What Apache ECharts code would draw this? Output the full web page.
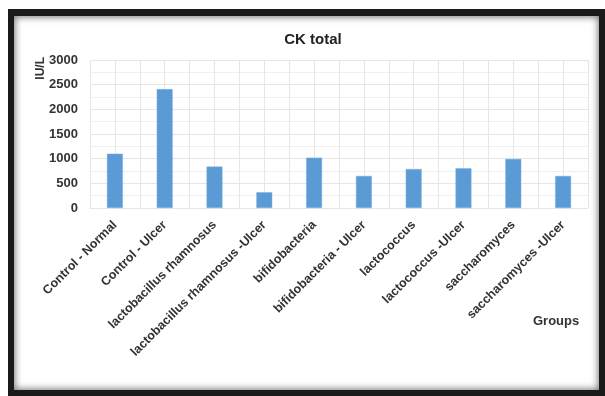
<!DOCTYPE html>
<html>
<head>
<meta charset="utf-8">
<script src="https://cdn.jsdelivr.net/npm/echarts@6/dist/echarts.min.js"></script>
<style>
  html, body { margin: 0; padding: 0; background: #fff; }
  body { width: 605px; height: 396px; position: relative; overflow: hidden; }
  /* picture frame around the chart */
  .frame { position: absolute; left: 8px; top: 9px; width: 597px; height: 387px; background: #1a1a1a; }
  .inner {
    position: absolute; left: 14px; top: 16px; width: 585px; height: 374px;
    background: #fff; box-shadow: inset 0 0 7px 1px #777;
  }
  #chart { position: absolute; left: 0; top: 0; width: 605px; height: 396px; }
</style>
</head>
<body>
<div class="frame"></div>
<div class="inner"></div>
<div id="chart"></div>
<script>
const groups = [
  'Control - Normal',
  'Control - Ulcer',
  'lactobacillus rhamnosus',
  'lactobacillus rhamnosus -Ulcer',
  'bifidobacteria',
  'bifidobacteria - Ulcer',
  'lactococcus',
  'lactococcus -Ulcer',
  'saccharomyces',
  'saccharomyces -Ulcer'
]
const ckTotal = [1100, 2410, 840, 320, 1020, 650, 790, 805, 995, 650]

const textColor = '#333'
const gridColor = '#e6e6e6'

const chart = echarts.init(document.getElementById('chart'))
chart.setOption({
  animation: false,
  title: {
    text: 'CK total',
    left: 308,
    textAlign: 'center',
    top: 27,
    textStyle: { fontFamily: 'Liberation Sans', fontSize: 15, fontWeight: 'bold', color: '#222' }
  },
  grid: { left: 90, right: 17, top: 60, bottom: 188 },
  xAxis: [
    {
      type: 'category',
      data: groups,
      axisLine: { show: true, lineStyle: { color: gridColor } },
      axisTick: { show: false },
      splitLine: { show: false },
      axisLabel: {
        interval: 0,
        rotate: 45,
        margin: 15,
        color: textColor,
        fontFamily: 'Liberation Sans',
        fontWeight: 'bold',
        fontSize: 12.5
      }
    },
    {
      // hidden helper axis, only for the half-category vertical gridlines
      type: 'value',
      min: 0,
      max: 20,
      interval: 1,
      position: 'bottom',
      axisLine: { show: false },
      axisTick: { show: false },
      axisLabel: { show: false },
      splitLine: { show: true, lineStyle: { color: gridColor, width: 1 } }
    }
  ],
  yAxis: {
    type: 'value',
    min: 0,
    max: 3000,
    interval: 500,
    axisLine: { show: false },
    axisTick: { show: false },
    axisLabel: {
      color: textColor,
      fontFamily: 'Liberation Sans',
      fontWeight: 'bold',
      fontSize: 13,
      margin: 12,
      formatter: v => String(v)
    },
    splitLine: { lineStyle: { color: gridColor } },
    minorTick: { show: false, splitNumber: 2 },
    minorSplitLine: { show: true, lineStyle: { color: '#efefef' } }
  },
  graphic: [
    {
      type: 'text',
      left: 35,
      top: 57,
      rotation: Math.PI / 2,
      style: {
        text: 'IU/L',
        fill: textColor,
        font: 'bold 12px "Liberation Sans"'
      }
    },
    {
      type: 'text',
      left: 533,
      top: 315,
      style: {
        text: 'Groups',
        fill: textColor,
        font: 'bold 13px "Liberation Sans"'
      }
    }
  ],
  series: [{
    type: 'bar',
    xAxisIndex: 0,
    data: ckTotal,
    barWidth: '32%',
    itemStyle: { color: '#5b9bd5', borderColor: '#7fb0de', borderWidth: 0.5 }
  }]
})
</script>
</body>
</html>
